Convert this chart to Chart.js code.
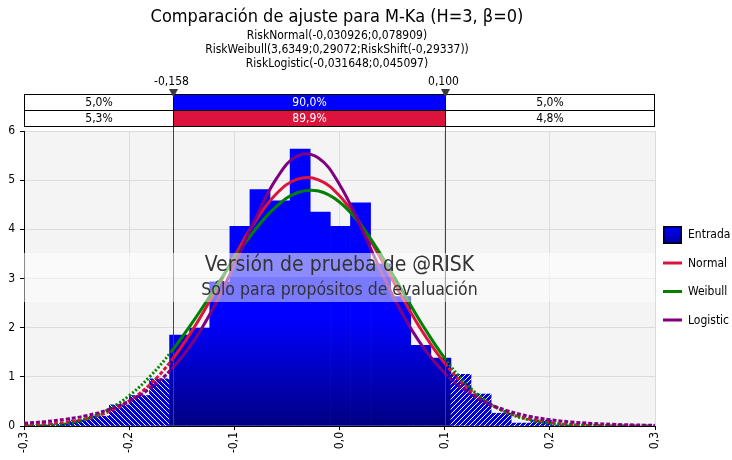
<!DOCTYPE html>
<html>
<head>
<meta charset="utf-8">
<script src="https://cdn.jsdelivr.net/npm/chart.js@4.4.0/dist/chart.umd.min.js"></script>
<style>
  html, body { margin: 0; padding: 0; background: #fff; }
  #wrap { width: 732px; height: 460px; position: relative; }
</style>
</head>
<body>
<div id="wrap"><canvas id="chart"></canvas></div>
<script>
const titleText = "Comparación de ajuste para M-Ka (H=3, β=0)";
const subtitleLines = [
  "RiskNormal(-0,030926;0,078909)",
  "RiskWeibull(3,6349;0,29072;RiskShift(-0,29337))",
  "RiskLogistic(-0,031648;0,045097)"
];
const watermark = ["Versión de prueba de @RISK", "Sólo para propósitos de evaluación"];

// histogram (bin centres, density)
const binCenters = [-0.2857, -0.2666, -0.2475, -0.2284, -0.2093, -0.1902, -0.1711, -0.1520, -0.1329,
  -0.1138, -0.0947, -0.0756, -0.0565, -0.0374, -0.0183, 0.0009, 0.0200, 0.0391, 0.0582, 0.0773,
  0.0964, 0.1155, 0.1346, 0.1537, 0.1728, 0.1919, 0.2110];
const binHeights = [0.02, 0.05, 0.12, 0.20, 0.43, 0.62, 0.96, 1.85, 1.99,
  2.93, 4.06, 4.81, 4.58, 5.63, 4.35, 4.06, 4.54, 3.30, 2.63, 1.64,
  1.38, 1.05, 0.65, 0.26, 0.06, 0.12, 0.02];

// fitted curves read along x
const curveX = [-0.30, -0.28, -0.26, -0.24, -0.22, -0.20, -0.18, -0.16, -0.14, -0.12, -0.10,
  -0.08, -0.06, -0.04, -0.02, 0.00, 0.02, 0.04, 0.06, 0.08, 0.10,
  0.12, 0.14, 0.16, 0.18, 0.20, 0.22, 0.24, 0.26, 0.28, 0.30];
const normalY = [0.015, 0.035, 0.075, 0.151, 0.286, 0.509, 0.849, 1.327, 1.945, 2.674, 3.447,
  4.167, 4.724, 5.022, 5.008, 4.682, 4.105, 3.376, 2.603, 1.882, 1.277,
  0.812, 0.484, 0.271, 0.142, 0.070, 0.032, 0.014, 0.006, 0.002, 0.001];
const weibullY = [0.000, 0.004, 0.042, 0.143, 0.330, 0.617, 1.012, 1.513, 2.102, 2.749, 3.402,
  3.999, 4.469, 4.745, 4.779, 4.556, 4.096, 3.462, 2.739, 2.018, 1.379,
  0.868, 0.501, 0.264, 0.126, 0.054, 0.021, 0.007, 0.002, 0.001, 0.000];
const logisticY = [0.057, 0.089, 0.139, 0.214, 0.330, 0.506, 0.768, 1.151, 1.687, 2.401, 3.274,
  4.212, 5.030, 5.496, 5.452, 4.913, 4.060, 3.123, 2.271, 1.587, 1.077,
  0.718, 0.472, 0.308, 0.199, 0.129, 0.083, 0.053, 0.034, 0.022, 0.014];

const cutoffs = [-0.158, 0.100];
const pctInput = ["5,0%", "90,0%", "5,0%"];
const pctNormal = ["5,3%", "89,9%", "4,8%"];

const xTicks = [-0.3, -0.2, -0.1, 0.0, 0.1, 0.2, 0.3];
const yTicks = [0, 1, 2, 3, 4, 5, 6];

const FONT = '"DejaVu Sans Condensed", "Liberation Sans", Arial, sans-serif';

function makeHatch(dir) {
  const c = document.createElement("canvas");
  c.width = 5; c.height = 5;
  const g = c.getContext("2d");
  g.fillStyle = "#0000dc";
  g.fillRect(0, 0, 5, 5);
  g.strokeStyle = "#ffffff";
  g.lineWidth = 1;
  g.beginPath();
  if (dir > 0) {
    g.moveTo(-1, 6); g.lineTo(6, -1);
  } else {
    g.moveTo(-1, -1); g.lineTo(6, 6);
  }
  g.stroke();
  return g.createPattern(c, "repeat");
}
const hatchLeft = makeHatch(-1);
const hatchRight = makeHatch(1);

function barColor(ctx) {
  const x = binCenters[ctx.dataIndex];
  if (x < cutoffs[0]) return hatchLeft;
  if (x > cutoffs[1]) return hatchRight;
  const chart = ctx.chart;
  if (!chart.chartArea) return "#0000ff";
  const y = chart.scales.y;
  const grad = chart.ctx.createLinearGradient(0, y.getPixelForValue(2.2), 0, y.getPixelForValue(0));
  grad.addColorStop(0, "#0000ff");
  grad.addColorStop(1, "#000082");
  return grad;
}

const fmt = (v, d) => {
  if (Math.abs(v) < 1e-9) v = 0;
  return v.toFixed(d).replace(".", ",");
};

const tailDash = (dash) => (ctx) => {
  const a = ctx.p0.parsed.x, b = ctx.p1.parsed.x;
  return (b <= cutoffs[0] + 1e-9 || a >= cutoffs[1] - 1e-9) ? dash : undefined;
};

function curve(label, ys, color, dash, order) {
  return {
    type: "line",
    label: label,
    data: curveX.map((x, i) => ({ x: x, y: ys[i] })),
    borderColor: color,
    borderWidth: 3,
    pointRadius: 0,
    tension: 0.4,
    fill: false,
    order: order,
    segment: { borderDash: tailDash(dash) }
  };
}

const decorPlugin = {
  id: "decor",
  beforeDraw(chart) {
    const { ctx, chartArea: a } = chart;
    ctx.save();
    ctx.fillStyle = "#f4f4f4";
    ctx.fillRect(a.left, a.top, a.right - a.left, a.bottom - a.top);
    ctx.restore();
  },
  afterDatasetsDraw(chart) {
    const { ctx, chartArea: a, scales } = chart;
    ctx.save();
    ctx.strokeStyle = "#454545";
    ctx.lineWidth = 1;
    cutoffs.forEach(c => {
      const x = Math.round(scales.x.getPixelForValue(c)) + 0.5;
      ctx.beginPath();
      ctx.moveTo(x, 94);
      ctx.lineTo(x, a.bottom);
      ctx.stroke();
    });
    ctx.restore();
  },
  afterDraw(chart) {
    const { ctx, chartArea: a, scales } = chart;
    ctx.save();
    // watermark band
    ctx.fillStyle = "rgba(255,255,255,0.55)";
    ctx.fillRect(a.left, 253, a.right - a.left, 24);
    ctx.fillStyle = "rgba(255,255,255,0.48)";
    ctx.fillRect(a.left, 277, a.right - a.left, 25);
    ctx.fillStyle = "#333";
    ctx.textAlign = "center";
    ctx.textBaseline = "middle";
    const cx = (a.left + a.right) / 2;
    ctx.font = "21px " + FONT;
    ctx.fillText(watermark[0], cx, 266);
    ctx.font = "17.5px " + FONT;
    ctx.fillText(watermark[1], cx, 290);

    // title
    ctx.fillStyle = "#000";
    ctx.font = "18px " + FONT;
    ctx.fillText(titleText, 337, 17);
    ctx.font = "12px " + FONT;
    subtitleLines.forEach((t, i) => ctx.fillText(t, 337, 36 + i * 14));

    // delimiter boxes
    const xa = Math.round(scales.x.getPixelForValue(cutoffs[0])) + 0.5;
    const xb = Math.round(scales.x.getPixelForValue(cutoffs[1])) + 0.5;
    const L = a.left + 0.5, R = Math.round(a.right) - 0.5;
    const rows = [{ y: 94.5, pct: pctInput, fill: "#0000ff" }, { y: 110.5, pct: pctNormal, fill: "#dc143c" }];
    rows.forEach(r => {
      ctx.fillStyle = "#fff";
      ctx.fillRect(L, r.y, R - L, 16);
      ctx.fillStyle = r.fill;
      ctx.fillRect(xa, r.y, xb - xa, 16);
      ctx.strokeStyle = "#000";
      ctx.lineWidth = 1;
      ctx.strokeRect(L, r.y, R - L, 16);
      ctx.beginPath();
      ctx.moveTo(xa, r.y); ctx.lineTo(xa, r.y + 16);
      ctx.moveTo(xb, r.y); ctx.lineTo(xb, r.y + 16);
      ctx.stroke();
      ctx.font = "12px " + FONT;
      ctx.fillStyle = "#000";
      ctx.fillText(r.pct[0], (L + xa) / 2, r.y + 8.5);
      ctx.fillText(r.pct[2], (xb + R) / 2, r.y + 8.5);
      ctx.fillStyle = "#fff";
      ctx.fillText(r.pct[1], (xa + xb) / 2, r.y + 8.5);
    });
    // markers
    [xa, xb].forEach((x, i) => {
      ctx.fillStyle = "#3a3a3a";
      ctx.beginPath();
      ctx.moveTo(x - 4.5, 89);
      ctx.lineTo(x + 4.5, 89);
      ctx.lineTo(x, 97.5);
      ctx.closePath();
      ctx.fill();
      ctx.fillStyle = "#000";
      ctx.font = "12px " + FONT;
      ctx.fillText(fmt(cutoffs[i], 3), x - 2, 82);
    });

    // legend
    const lx = 663;
    const lg = ctx.createLinearGradient(0, 227, 0, 243);
    lg.addColorStop(0, "#0000ff");
    lg.addColorStop(1, "#0000a0");
    ctx.fillStyle = lg;
    ctx.fillRect(lx + 1, 227, 17, 16);
    ctx.strokeStyle = "#000";
    ctx.lineWidth = 1.5;
    ctx.strokeRect(lx + 0.75, 226.75, 17.5, 16.5);
    const items = [["Normal", "#dc143c", 263], ["Weibull", "#008000", 291.5], ["Logistic", "#800080", 320]];
    ctx.lineWidth = 3;
    items.forEach(it => {
      ctx.strokeStyle = it[1];
      ctx.beginPath();
      ctx.moveTo(lx, it[2]); ctx.lineTo(lx + 19, it[2]);
      ctx.stroke();
    });
    ctx.fillStyle = "#000";
    ctx.textAlign = "left";
    ctx.font = "12px " + FONT;
    ctx.fillText("Entrada", 688, 234.5);
    items.forEach(it => ctx.fillText(it[0], 688, it[2] + 0.5));
    ctx.restore();
  }
};

Chart.defaults.font.family = FONT;
Chart.defaults.font.size = 12;
Chart.defaults.color = "#000";

const chart = new Chart(document.getElementById("chart"), {
  type: "bar",
  data: {
    datasets: [
      curve("Normal", normalY, "#dc143c", [4, 2], 3),
      curve("Weibull", weibullY, "#008000", [2, 2], 2),
      curve("Logistic", logisticY, "#800080", [4, 2], 1),
      {
        type: "bar",
        label: "Entrada",
        data: binCenters.map((x, i) => ({ x: x, y: binHeights[i] })),
        backgroundColor: barColor,
        borderWidth: 0,
        barPercentage: 1,
        categoryPercentage: 1,
        order: 10
      }
    ]
  },
  options: {
    responsive: true,
    maintainAspectRatio: false,
    animation: false,
    layout: { padding: { top: 131, right: 77, left: 0, bottom: 0 } },
    plugins: { legend: { display: false }, tooltip: { enabled: false } },
    scales: {
      x: {
        type: "linear",
        min: -0.3,
        max: 0.3,
        offset: false,
        afterBuildTicks: s => { s.ticks = xTicks.map(v => ({ value: v })); },
        afterFit: s => { s.height = 34; },
        ticks: { minRotation: 90, maxRotation: 90, padding: 2, callback: v => fmt(v, 1) },
        grid: { color: "#dcdcdc", offset: false, tickLength: 4, tickColor: "#000" },
        border: { color: "#000" }
      },
      y: {
        min: 0,
        max: 6,
        afterBuildTicks: s => { s.ticks = yTicks.map(v => ({ value: v })); },
        afterFit: s => { s.width = 24; },
        ticks: { padding: 5, callback: v => String(v) },
        grid: { color: "#dcdcdc", tickLength: 4, tickColor: "#000" },
        border: { color: "#000" }
      }
    }
  },
  plugins: [decorPlugin]
});
</script>
</body>
</html>
